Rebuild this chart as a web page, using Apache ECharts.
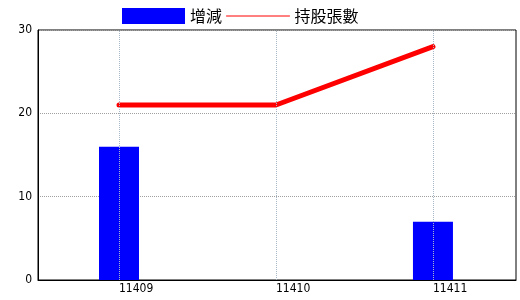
<!DOCTYPE html>
<html>
<head>
<meta charset="utf-8">
<script src="https://cdn.jsdelivr.net/npm/echarts@6/dist/echarts.min.js"></script>
<style>
html,body{margin:0;padding:0;background:#fff;}
#c{width:520px;height:300px;}
</style>
</head>
<body>
<div id="c"></div>
<script>
const periods = [11409, 11410, 11411];
const changeValues = [16, 0, 7];
const holdingValues = [21, 21, 28];
const yTicks = [0, 10, 20, 30];
const seriesNames = ['增減', '持股張數'];

const numFont = '"Liberation Sans Narrow", "DejaVu Sans Condensed", "Liberation Sans", sans-serif';
const cjkFont = '"Noto Sans CJK TC", "Noto Sans CJK SC", sans-serif';

const chart = echarts.init(document.getElementById('c'), null, {renderer: 'canvas'});
chart.setOption({
  animation: false,
  backgroundColor: '#fff',
  legend: {
    left: 122,
    top: 8,
    padding: 0,
    itemWidth: 63,
    itemHeight: 16,
    itemGap: 4,
    textStyle: {fontFamily: cjkFont, fontSize: 16, color: '#000'},
    lineStyle: {width: 1},
    data: [
      {name: seriesNames[0], icon: 'rect'},
      {name: seriesNames[1], itemStyle: {opacity: 0}}
    ]
  },
  grid: {
    left: 38, right: 4, top: 30, bottom: 20,
    show: true, borderColor: '#000', borderWidth: 1,
    containLabel: false
  },
  xAxis: {
    type: 'value',
    min: 11408.484,
    max: 11411.529,
    axisLine: {show: true, lineStyle: {color: '#000', width: 1}},
    axisTick: {show: false},
    splitLine: {show: false},
    axisLabel: {
      customValues: periods,
      formatter: v => String(v),
      align: 'left',
      margin: 3,
      color: '#000',
      fontFamily: numFont,
      fontSize: 12
    }
  },
  yAxis: {
    type: 'value',
    min: yTicks[0],
    max: yTicks[yTicks.length - 1],
    interval: 10,
    axisLine: {show: true, lineStyle: {color: '#000', width: 1}},
    axisTick: {show: false},
    axisLabel: {margin: 6, color: '#000', fontFamily: numFont, fontSize: 12},
    splitLine: {show: true, lineStyle: {color: '#a0a0a0', width: 1, type: [1, 1]}}
  },
  series: [
    {
      name: 'vgrid',
      type: 'line',
      data: [],
      z: 1,
      markLine: {
        silent: true,
        symbol: 'none',
        label: {show: false},
        lineStyle: {color: '#a8b8c8', width: 1, type: [1, 1]},
        data: periods.map(p => ({xAxis: p}))
      }
    },
    {
      name: seriesNames[0],
      type: 'bar',
      barWidth: 40,
      itemStyle: {color: '#0000ff'},
      data: periods.map((p, i) => [p, changeValues[i]]),
      z: 2
    },
    {
      name: seriesNames[1],
      type: 'line',
      symbol: 'none',
      lineStyle: {color: '#ff0000', width: 5, cap: 'round'},
      itemStyle: {color: '#ff0000'},
      data: periods.map((p, i) => [p, holdingValues[i]]),
      z: 3
    }
  ]
});
</script>
</body>
</html>
